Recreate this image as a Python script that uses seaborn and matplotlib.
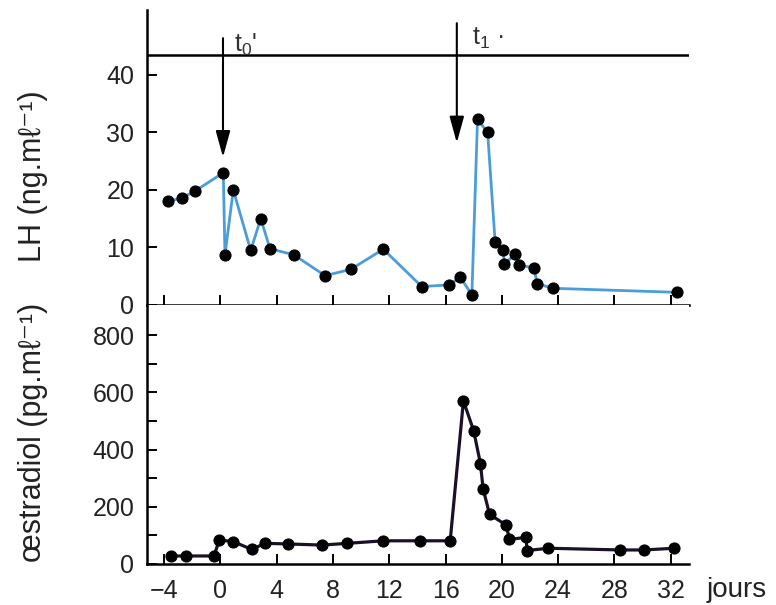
import matplotlib
matplotlib.use("Agg")
import matplotlib.pyplot as plt
from matplotlib.patches import ArrowStyle
import seaborn as sns

# ==========================================
# Data
# ==========================================

lh_days = [-3.70, -2.74, -1.80, 0.21, 0.33, 0.92, 2.16, 2.87, 3.53, 5.24,
           7.44, 9.27, 11.58, 14.31, 16.28, 17.04, 17.87, 18.27, 18.99,
           19.52, 20.11, 20.16, 20.94, 21.25, 22.25, 22.53, 23.62, 32.44]
lh_values = [18.0, 18.6, 19.8, 23.0, 8.7, 20.0, 9.5, 15.0, 9.8, 8.7,
             5.1, 6.2, 9.7, 3.2, 3.5, 4.8, 1.8, 32.3, 30.0,
             11.0, 9.5, 7.1, 8.8, 6.9, 6.5, 3.7, 2.9, 2.2]

e2_days = [-3.53, -2.44, -0.45, -0.07, 0.92, 2.23, 3.18, 4.83, 7.21, 8.98,
           11.58, 14.19, 16.33, 17.27, 18.00, 18.48, 18.67, 19.13, 20.31,
           20.54, 21.73, 21.78, 23.31, 28.41, 30.11, 32.25]
e2_values = [28, 28, 28, 84, 78, 51, 72, 70, 66, 72,
             81, 81, 81, 570, 465, 350, 262, 173, 136,
             86, 93, 47, 55, 49, 49, 55]

x_ticks = [-4, 0, 4, 8, 12, 16, 20, 24, 28, 32]
lh_ticks = [0, 10, 20, 30, 40]
e2_ticks = [0, 200, 400, 600, 800]
e2_minor = [100, 300, 500, 700]

# ==========================================
# Style
# ==========================================

sns.set_style("ticks")
plt.rcParams["font.family"] = ["Liberation Sans", "DejaVu Sans"]
plt.rcParams["mathtext.fontset"] = "custom"
plt.rcParams["mathtext.rm"] = "Liberation Sans"
plt.rcParams["text.color"] = "#222222"
plt.rcParams["xtick.color"] = "black"
plt.rcParams["ytick.color"] = "black"
plt.rcParams["xtick.labelcolor"] = "#222222"
plt.rcParams["ytick.labelcolor"] = "#222222"

fig = plt.figure(figsize=(7.76, 6.05), dpi=100)
ax1 = fig.add_axes([0.1894, 0.4959, 0.6986, 0.4876])
ax2 = fig.add_axes([0.1894, 0.0678, 0.6986, 0.4281], sharex=ax1)

# ==========================================
# LH panel
# ==========================================

sns.lineplot(x=lh_days, y=lh_values, ax=ax1, sort=False, color="#4a9dd8",
             lw=2.0, marker="o", markersize=8, markerfacecolor="black",
             markeredgecolor="black", clip_on=False)

ax1.set_ylim(0, 51.3)
ax1.set_yticks(lh_ticks)
ax1.axhline(43.5, color="black", lw=1.8)

# injection arrows
head = ArrowStyle("-|>", head_length=0.8, head_width=0.22)
for day, top, tip, label, dx, dy in [(0.19, 46.4, 25.7, r"t$_\mathregular{0}$'", 0.8, 47.5),
                                      (16.8, 49.0, 28.2, r"t$_\mathregular{1}$ ·", 1.1, 48.6)]:
    ax1.annotate("", xy=(day, tip), xytext=(day, top),
                 arrowprops=dict(arrowstyle=head, color="black", lw=1.5,
                                 mutation_scale=20, shrinkA=0, shrinkB=0))
    ax1.text(day + dx, dy, label, fontsize=18, color="#333333",
             va="top", ha="left")

# ==========================================
# Oestradiol panel
# ==========================================

sns.lineplot(x=e2_days, y=e2_values, ax=ax2, sort=False, color="#1c1028",
             lw=2.3, marker="o", markersize=8, markerfacecolor="black",
             markeredgecolor="black", clip_on=False)

ax2.set_ylim(0, 905)
ax2.set_yticks(e2_ticks)
ax2.set_yticks(e2_minor, minor=True)
ax2.set_xlim(-5.21, 33.3)
ax2.set_xticks(x_ticks)

# ==========================================
# Axes cosmetics
# ==========================================

for ax in (ax1, ax2):
    sns.despine(ax=ax, top=True, right=True)
    ax.spines["left"].set_linewidth(1.8)
    ax.spines["bottom"].set_linewidth(1.8)
    ax.spines["left"].set_color("black")
    ax.spines["bottom"].set_color("black")
    ax.tick_params(direction="in", length=7, width=1.4, labelsize=18, pad=9)
    ax.tick_params(which="minor", direction="in", length=7, width=1.4)
    ax.set_xlabel("")
    ax.set_ylabel("")
    ax.set_facecolor("white")

ax1.tick_params(axis="x", labelbottom=False)
ax2.tick_params(axis="x", pad=11)

fig.text(0.043, 0.709, "LH (ng.mℓ⁻¹)", rotation=90, fontsize=22,
         ha="center", va="center")
fig.text(0.043, 0.286, "œstradiol (pg.mℓ⁻¹)", rotation=90, fontsize=22,
         ha="center", va="center")
fig.text(0.911, 0.013, "jours", fontsize=20, ha="left", va="baseline")

plt.savefig("out.png", dpi=100)
plt.close()
